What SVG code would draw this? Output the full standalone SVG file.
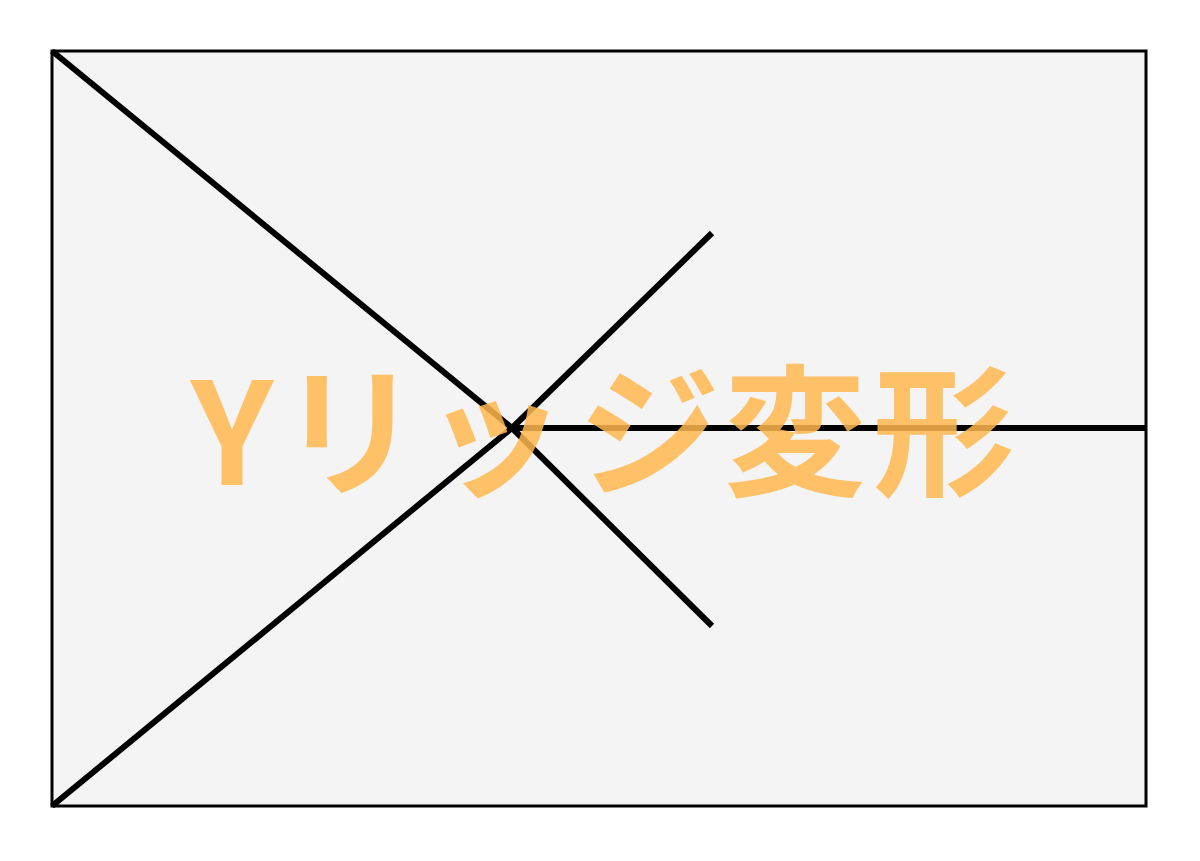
<svg xmlns="http://www.w3.org/2000/svg" width="1200" height="861" viewBox="0 0 1200 861">
<style>
.frame{fill:#f4f4f4;stroke:#000;stroke-width:3}
.ln{stroke:#000;stroke-width:6;fill:none;stroke-linecap:butt}
.lbl{font-family:"Noto Sans CJK JP","Noto Sans",sans-serif;font-weight:700;font-size:142px;fill:#ffb74d;fill-opacity:0.85;text-anchor:middle}
</style>
<rect width="1200" height="861" fill="#fff"/>
<g id="frame"><rect class="frame" x="52" y="51" width="1094" height="755"/></g>
<g id="connectors">
<line class="ln" x1="52" y1="51" x2="512" y2="428"/>
<line class="ln" x1="52" y1="806" x2="512" y2="428"/>
<line class="ln" x1="512" y1="428" x2="1146" y2="428"/>
<line class="ln" x1="512" y1="428" x2="712" y2="233"/>
<line class="ln" x1="512" y1="428" x2="712" y2="626"/>
</g>
<g id="label"><text class="lbl" x="232 350 495 649 795 944" y="485">Yリッジ変形</text></g>
</svg>
